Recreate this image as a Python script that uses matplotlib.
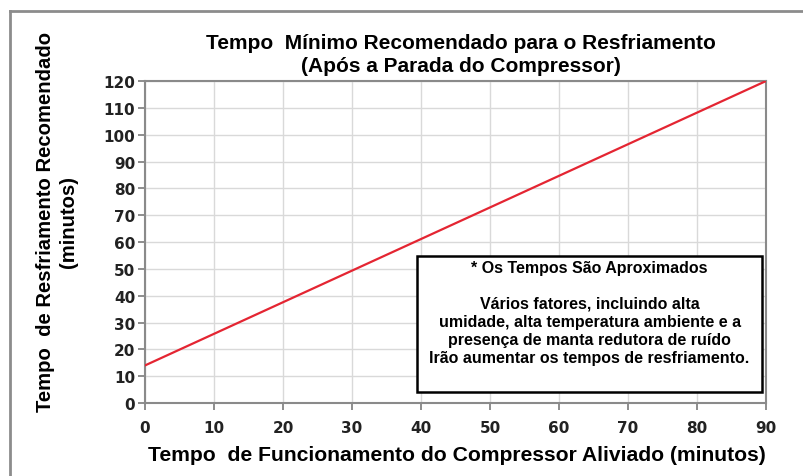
import matplotlib
matplotlib.use("Agg")
import matplotlib.pyplot as plt
from matplotlib.lines import Line2D
from matplotlib.patches import Rectangle

# data
run_time = [0, 90]
cooldown = [14, 120]
x_ticks = list(range(0, 91, 10))
y_ticks = list(range(0, 121, 10))

title = "Tempo  Mínimo Recomendado para o Resfriamento\n(Após a Parada do Compressor)"
x_label = "Tempo  de Funcionamento do Compressor Aliviado (minutos)"
y_label = "Tempo  de Resfriamento Recomendado\n(minutos)"
note_head = "* Os Tempos São Aproximados"
note_body = ("Vários fatores, incluindo alta\n"
             "umidade, alta temperatura ambiente e a\n"
             "presença de manta redutora de ruído\n"
             "Irão aumentar os tempos de resfriamento.")

SANS = ["Liberation Sans", "DejaVu Sans"]

fig = plt.figure(figsize=(8.04, 4.77), dpi=100)
ax = fig.add_axes([0.1803, 0.1530, 0.7724, 0.675])

ax.plot(run_time, cooldown, color="#e42532", linewidth=1.6, zorder=3)

ax.set_xlim(0, 90)
ax.set_ylim(0, 120)
ax.set_xticks(x_ticks)
ax.set_yticks(y_ticks)
ax.grid(True, color="#d9d9d9", linewidth=1.0)
ax.set_axisbelow(True)
for s in ax.spines.values():
    s.set_color("#8a8a8a")
    s.set_linewidth(1.5)
ax.tick_params(direction="out", length=5, width=1.2, color="#7a7a7a",
               labelsize=11, pad=2)
ax.tick_params(axis="x", pad=7)
for lab in ax.get_xticklabels() + ax.get_yticklabels():
    lab.set_fontweight("bold")
    lab.set_family("DejaVu Sans")
    lab.set_color("#222222")

# titles and labels
fig.text(0.573, 0.885, title, ha="center", va="center", fontsize=15,
         fontweight="bold", family=SANS, linespacing=1.3)
fig.text(0.568, 0.045, x_label, ha="center", va="center", fontsize=15.2,
         fontweight="bold", family=SANS)
fig.text(0.071, 0.535, y_label, ha="center", va="center", rotation=90,
         fontsize=14.6, fontweight="bold", family=SANS, linespacing=1.3)

# note box
ax.add_patch(Rectangle((0.438, 0.034), 0.556, 0.4225, transform=ax.transAxes,
                       facecolor="white", edgecolor="black", linewidth=1.8,
                       zorder=4))
ax.text(0.716, 0.42, note_head, transform=ax.transAxes, ha="center",
        va="center", fontsize=11.5, fontweight="bold", family=SANS, zorder=5)
ax.text(0.716, 0.226, note_body, transform=ax.transAxes, ha="center",
        va="center", fontsize=11.5, fontweight="bold", family=SANS,
        linespacing=1.27, zorder=5)

# outer frame (left and top only)
fig.add_artist(Line2D([0.0124, 0.0124], [0.0, 0.975], transform=fig.transFigure,
                      color="#8c8c8c", linewidth=2))
fig.add_artist(Line2D([0.0124, 1.0], [0.975, 0.975], transform=fig.transFigure,
                      color="#8c8c8c", linewidth=2))

fig.savefig("out.png", dpi=100)
